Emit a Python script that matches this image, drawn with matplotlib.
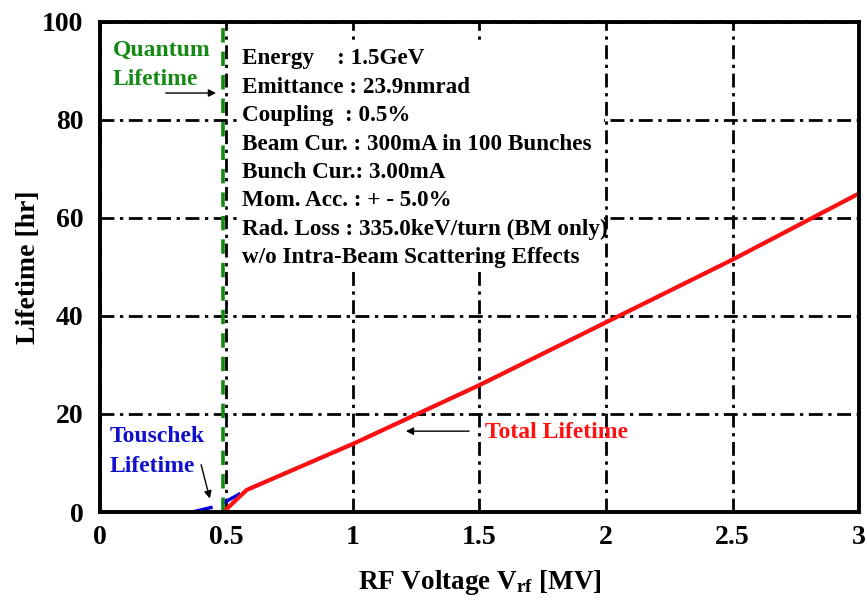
import matplotlib
matplotlib.use("Agg")
import matplotlib.pyplot as plt
from matplotlib.patches import Rectangle

# RF voltage [MV] vs lifetime [hr]
v_total = [0.488, 0.58, 1.0, 1.5, 2.0, 2.5, 3.0]
t_total = [0.0, 4.5, 13.9, 25.9, 38.7, 51.5, 65.0]

v_touschek = [0.365, 0.47, 0.5, 0.58, 1.0, 1.5, 2.0, 2.5, 3.0]
t_touschek = [0.0, 1.3, 2.2, 4.5, 13.9, 25.9, 38.7, 51.5, 65.0]

v_quantum = 0.485

x_ticks = [0, 0.5, 1, 1.5, 2, 2.5, 3]
x_ticklabels = ["0", "0.5", "1", "1.5", "2", "2.5", "3"]
y_ticks = [0, 20, 40, 60, 80, 100]

params = [
    "Energy    : 1.5GeV",
    "Emittance : 23.9nmrad",
    "Coupling  : 0.5%",
    "Beam Cur. : 300mA in 100 Bunches",
    "Bunch Cur.: 3.00mA",
    "Mom. Acc. : + - 5.0%",
    "Rad. Loss : 335.0keV/turn (BM only)",
    "w/o Intra-Beam Scattering Effects",
]

plt.rcParams["font.family"] = ["Liberation Serif", "DejaVu Serif"]
plt.rcParams["font.weight"] = "bold"
plt.rcParams["mathtext.fontset"] = "custom"
plt.rcParams["mathtext.rm"] = "Liberation Serif:bold"
plt.rcParams["mathtext.it"] = "Liberation Serif:bold"
plt.rcParams["mathtext.bf"] = "Liberation Serif:bold"

fig = plt.figure(figsize=(8.67, 6.02), dpi=100)
ax = fig.add_axes([0.1153, 0.1495, 0.8755, 0.814])

ax.set_xlim(0, 3)
ax.set_ylim(0, 100)
ax.set_xticks(x_ticks)
ax.set_xticklabels(x_ticklabels)
ax.set_yticks(y_ticks)
ax.tick_params(length=0, labelsize=20, pad=12)
ax.tick_params(axis="x", pad=9)
for lbl in ax.get_xticklabels() + ax.get_yticklabels():
    lbl.set_fontweight("bold")

for s in ax.spines.values():
    s.set_linewidth(2.8)
    s.set_zorder(10)

ax.set_axisbelow(True)
ax.grid(True, color="black", linewidth=2.0, linestyle=(0, (5, 2, 1.2, 2)))

# white panel behind the machine parameters
ax.add_patch(Rectangle((0.553, 49.8), 1.44, 46.6, facecolor="white",
                       edgecolor="none", zorder=1.5))

# lifetimes
ax.plot(v_touschek, t_touschek, color="#0000dd", linewidth=2.5,
        linestyle=(0, (6, 3)), zorder=4)
ax.plot(v_total, t_total, color="#ff1010", linewidth=3.0, zorder=5)
ax.axvline(v_quantum, color="#148a14", linewidth=2.6,
           linestyle=(0, (4, 2.5)), zorder=6)

# machine parameters
ax.text(0.561, 94.6, "\n".join(params), fontsize=16.7, fontweight="bold",
        va="top", ha="left", linespacing=1.46, zorder=7)

# labels with arrows
ax.text(0.051, 96.4, "Quantum\nLifetime", color="#148a14", fontsize=17,
        fontweight="bold", va="top", ha="left", linespacing=1.5, zorder=8)
ax.annotate("", xy=(0.47, 85.5), xytext=(0.249, 85.5),
            arrowprops=dict(arrowstyle="-|>", color="black", lw=1.0,
                            mutation_scale=11), zorder=8)

ax.text(0.04, 17.5, "Touschek\nLifetime", color="#1010cc", fontsize=17,
        fontweight="bold", va="top", ha="left", linespacing=1.55, zorder=8)
ax.annotate("", xy=(0.437, 2.2), xytext=(0.397, 10.2),
            arrowprops=dict(arrowstyle="-|>", color="black", lw=1.0,
                            mutation_scale=11), zorder=8)

ax.text(1.52, 16.2, "Total Lifetime", color="#ff1010", fontsize=17,
        fontweight="bold", va="center", ha="left", zorder=8)
ax.annotate("", xy=(1.198, 16.5), xytext=(1.47, 16.5),
            arrowprops=dict(arrowstyle="-|>", color="black", lw=1.0,
                            mutation_scale=11), zorder=8)

ax.set_xlabel("RF Voltage V$_{\\rm rf}$ [MV]", fontsize=19.5,
              fontweight="bold", labelpad=13)
ax.set_ylabel("Lifetime [hr]", fontsize=20, fontweight="bold", labelpad=1)

fig.savefig("out.png", dpi=100)
